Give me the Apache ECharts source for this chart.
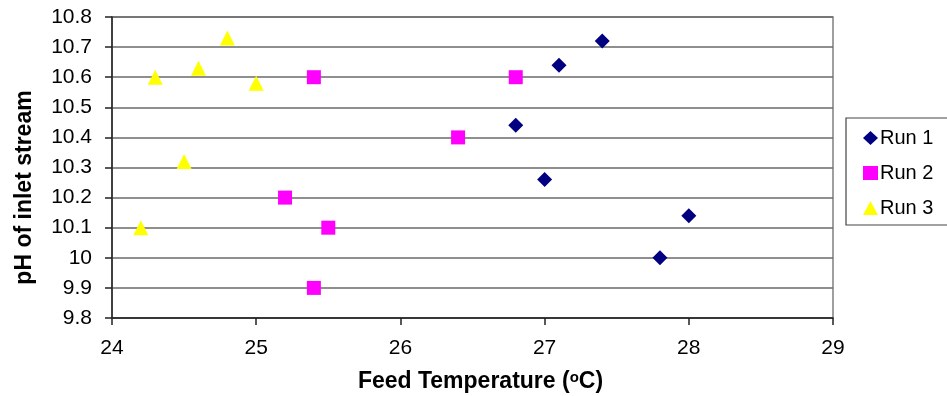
<!DOCTYPE html>
<html><head><meta charset="utf-8">
<script src="https://cdn.jsdelivr.net/npm/echarts@6/dist/echarts.min.js"></script>
<style>html,body{margin:0;padding:0;background:#fff}#c{width:947px;height:396px}</style>
</head><body><div id="c"></div>
<script>
const seriesNames = ['Run 1', 'Run 2', 'Run 3'];
const run1 = [[27.4, 10.72], [27.1, 10.64], [26.8, 10.44], [27.0, 10.26], [28.0, 10.14], [27.8, 10.0]];
const run2 = [[25.4, 10.6], [26.8, 10.6], [26.4, 10.4], [25.2, 10.2], [25.5, 10.1], [25.4, 9.9]];
const run3 = [[24.3, 10.6], [24.6, 10.63], [24.8, 10.73], [25.0, 10.58], [24.5, 10.32], [24.2, 10.1]];
const xTitle = 'Feed Temperature';
const yTitle = 'pH of inlet stream';

const font = 'Liberation Sans, Arial, sans-serif';
const chart = echarts.init(document.getElementById('c'));
chart.setOption({
  animation: false,
  backgroundColor: '#fff',
  grid: { left: 112, top: 17, right: 114, bottom: 78, show: true, borderColor: '#808080', borderWidth: 1.5, backgroundColor: 'transparent', containLabel: false, outerBoundsMode: 'none' },
  legend: {
    orient: 'vertical', left: 846, top: 118,
    padding: [10, 20, 7, 17], itemGap: 15, itemWidth: 15, itemHeight: 14,
    borderColor: '#444', borderWidth: 1.2,
    textStyle: { fontFamily: font, fontSize: 20, color: '#000', padding: [0, 0, 0, -3] },
    data: [
      { name: seriesNames[0], icon: 'diamond' },
      { name: seriesNames[1], icon: 'rect' },
      { name: seriesNames[2], icon: 'triangle' }
    ]
  },
  xAxis: {
    type: 'value', min: 24, max: 29, interval: 1,
    name: '{t|' + xTitle + ' (}{s|o}{t|C)}', nameLocation: 'middle', nameGap: 52,
    nameTextStyle: { padding: [0, 0, 0, 16], rich: {
      t: { fontFamily: font, fontSize: 23, fontWeight: 'bold', color: '#000' },
      s: { fontFamily: font, fontSize: 15, fontWeight: 'bold', color: '#000', verticalAlign: 'top', padding: [0, 0, 9, 0] }
    } },
    axisLine: { lineStyle: { color: '#222', width: 1.5 } },
    axisTick: { show: true, length: 7, lineStyle: { color: '#222', width: 1.5 } },
    axisLabel: { fontFamily: font, fontSize: 21, color: '#000', margin: 20 },
    splitLine: { show: false }
  },
  yAxis: {
    type: 'value', min: 9.8, max: 10.8, interval: 0.1,
    name: yTitle, nameLocation: 'middle', nameGap: 76, nameRotate: 90,
    nameTextStyle: { fontFamily: font, fontSize: 23, fontWeight: 'bold', color: '#000', padding: [0, 40, 0, 0] },
    axisLine: { show: true, lineStyle: { color: '#222', width: 1.5 } },
    axisTick: { show: true, length: 7, lineStyle: { color: '#222', width: 1.5 } },
    axisLabel: { fontFamily: font, fontSize: 21, color: '#000', margin: 20,
      formatter: v => String(Math.round(v * 10) / 10) },
    splitLine: { show: true, lineStyle: { color: '#6a6a6a', width: 1.5 } }
  },
  series: [
    { name: seriesNames[0], type: 'scatter', data: run1, symbol: 'diamond', symbolSize: 15, itemStyle: { color: '#000080', opacity: 1 } },
    { name: seriesNames[1], type: 'scatter', data: run2, symbol: 'rect', symbolSize: 14, itemStyle: { color: '#ff00ff', opacity: 1 } },
    { name: seriesNames[2], type: 'scatter', data: run3, symbol: 'triangle', symbolSize: 15, itemStyle: { color: '#ffff00', opacity: 1 } }
  ]
});
</script></body></html>
